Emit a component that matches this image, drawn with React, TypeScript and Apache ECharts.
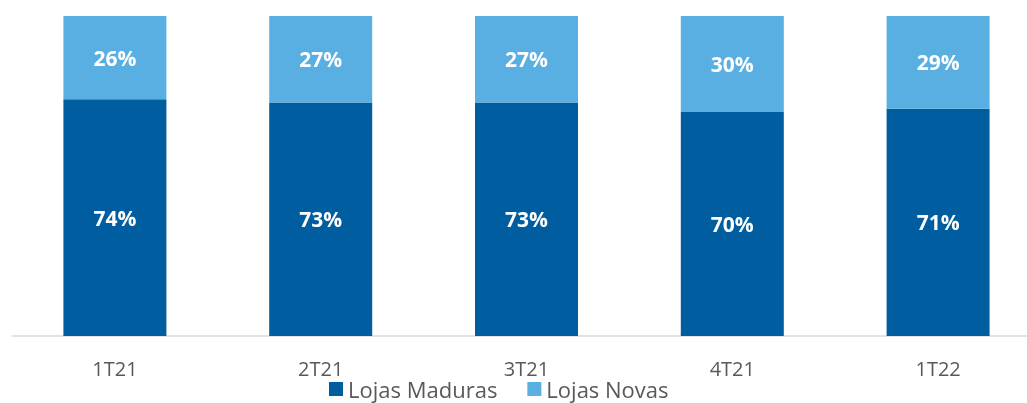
import React, { useEffect, useRef } from "react";
import * as echarts from "echarts";

const categories = ["1T21", "2T21", "3T21", "4T21", "1T22"];
const lojasMaduras = [74, 73, 73, 70, 71];
const lojasNovas = [26, 27, 27, 30, 29];

export default function App() {
  const ref = useRef<HTMLDivElement>(null);
  useEffect(() => {
    if (!ref.current) return;
    const chart = echarts.init(ref.current, undefined, { renderer: "svg" });
    const font = "'Open Sans', sans-serif";
    const label = {
      show: true,
      position: "inside",
      color: "#ffffff",
      fontWeight: "bold",
      fontSize: 21,
      fontFamily: font,
      formatter: (p: any) => p.value + "%",
    };
    chart.setOption({
      animation: false,
      grid: { left: 12, top: 16, width: 1029, height: 320, containLabel: false },
      legend: {
        data: ["Lojas Maduras", "Lojas Novas"],
        top: 373,
        left: 324,
        itemWidth: 14,
        itemHeight: 14,
        itemGap: 30,
        icon: "rect",
        textStyle: { fontSize: 22, color: "#595959", fontFamily: font },
      },
      xAxis: {
        type: "category",
        data: categories,
        axisLine: { lineStyle: { color: "#D9D9D9", width: 1.5 } },
        axisTick: { show: false },
        axisLabel: { fontSize: 20, color: "#595959", margin: 22, fontFamily: font },
      },
      yAxis: { type: "value", min: 0, max: 100, show: false, splitLine: { show: false } },
      series: [
        {
          name: "Lojas Maduras",
          type: "bar",
          stack: "total",
          barWidth: 103,
          data: lojasMaduras,
          itemStyle: { color: "#005DA0" },
          label,
        },
        {
          name: "Lojas Novas",
          type: "bar",
          stack: "total",
          barWidth: 103,
          data: lojasNovas,
          itemStyle: { color: "#5AAFE2" },
          label,
        },
      ],
    });
    return () => chart.dispose();
  }, []);
  return (
    <div style={{ position: "fixed", left: 0, top: 0, width: 1027, height: 403, overflow: "hidden" }}>
      <div ref={ref} style={{ width: 1045, height: 403 }} />
    </div>
  );
}
